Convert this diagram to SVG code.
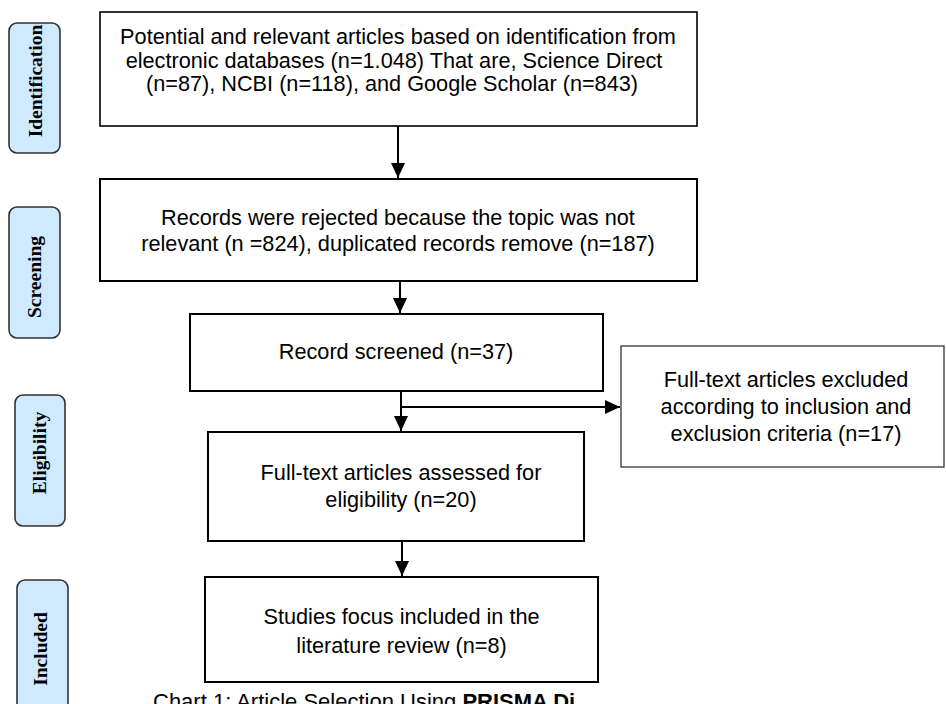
<svg xmlns="http://www.w3.org/2000/svg" width="946" height="704" viewBox="0 0 946 704">
<style>
.pill{fill:#cfe9ff;stroke:#333;stroke-width:1.6}
.box{fill:#fff;stroke:#000;stroke-width:2}
.thin{fill:#fff;stroke:#333;stroke-width:1.3}
.t{font-family:"Liberation Sans",Arial,sans-serif;font-size:21.7px;fill:#000;text-anchor:middle}
.p{font-family:"Liberation Serif","Times New Roman",serif;font-weight:bold;font-size:19.5px;fill:#000;text-anchor:middle}
.c{font-family:"Liberation Sans",Arial,sans-serif;font-size:22px;fill:#000}
.ln{stroke:#000;stroke-width:2;fill:none}
</style>
<defs>
<marker id="ah" markerWidth="15" markerHeight="14" refX="15" refY="7" orient="auto" markerUnits="userSpaceOnUse">
<path d="M0,0 L15,7 L0,14 Z" fill="#000"/>
</marker>
</defs>
<rect width="946" height="704" fill="#fff"/>
<g id="stage-identification">
<rect class="pill" x="9" y="23" width="51" height="130" rx="8"/>
<text class="p" transform="translate(42,81) rotate(-90)">Identification</text>
</g>
<g id="stage-screening">
<rect class="pill" x="9" y="207" width="51" height="131" rx="8"/>
<text class="p" transform="translate(41,277) rotate(-90)">Screening</text>
</g>
<g id="stage-eligibility">
<rect class="pill" x="15" y="395" width="50" height="131" rx="8"/>
<text class="p" transform="translate(46,453) rotate(-90)">Eligibility</text>
</g>
<g id="stage-included">
<rect class="pill" x="17" y="580" width="51" height="134" rx="8"/>
<text class="p" transform="translate(47,649) rotate(-90)">Included</text>
</g>
<g id="n1">
<rect class="box" x="100" y="12" width="597" height="114" style="stroke-width:1.6"/>
<text class="t" x="398" y="44">Potential and relevant articles based on identification from</text>
<text class="t" x="394" y="67.5">electronic databases (n=1.048) That are, Science Direct</text>
<text class="t" x="392" y="91">(n=87), NCBI (n=118), and Google Scholar (n=843)</text>
</g>
<g id="n2">
<rect class="box" x="100" y="179" width="597" height="102"/>
<text class="t" x="398" y="225">Records were rejected because the topic was not</text>
<text class="t" x="398" y="251">relevant (n =824), duplicated records remove (n=187)</text>
</g>
<g id="n3">
<rect class="box" x="190" y="314" width="413" height="77"/>
<text class="t" x="396" y="359">Record screened (n=37)</text>
</g>
<g id="n-excluded">
<rect class="thin" x="621" y="346" width="323" height="121"/>
<text class="t" x="786" y="387">Full-text articles excluded</text>
<text class="t" x="786" y="414">according to inclusion and</text>
<text class="t" x="786" y="441">exclusion criteria (n=17)</text>
</g>
<g id="n4">
<rect class="box" x="208" y="432" width="376" height="109"/>
<text class="t" x="401" y="480">Full-text articles assessed for</text>
<text class="t" x="401" y="507">eligibility (n=20)</text>
</g>
<g id="n5">
<rect class="box" x="205" y="577" width="393" height="105"/>
<text class="t" x="401.5" y="624">Studies focus included in the</text>
<text class="t" x="401.5" y="653">literature review (n=8)</text>
</g>
<g id="connectors">
<line class="ln" x1="398" y1="126" x2="398" y2="178" marker-end="url(#ah)"/>
<line class="ln" x1="400" y1="281" x2="400" y2="313" marker-end="url(#ah)"/>
<line class="ln" x1="401" y1="391" x2="401" y2="431" marker-end="url(#ah)"/>
<line class="ln" x1="400" y1="407" x2="620" y2="407" marker-end="url(#ah)"/>
<line class="ln" x1="402" y1="541" x2="402" y2="576" marker-end="url(#ah)"/>
</g>
<g id="caption">
<text class="c" x="153" y="709">Chart 1: Article Selection Using <tspan font-weight="bold">PRISMA Di</tspan></text>
</g>
</svg>
